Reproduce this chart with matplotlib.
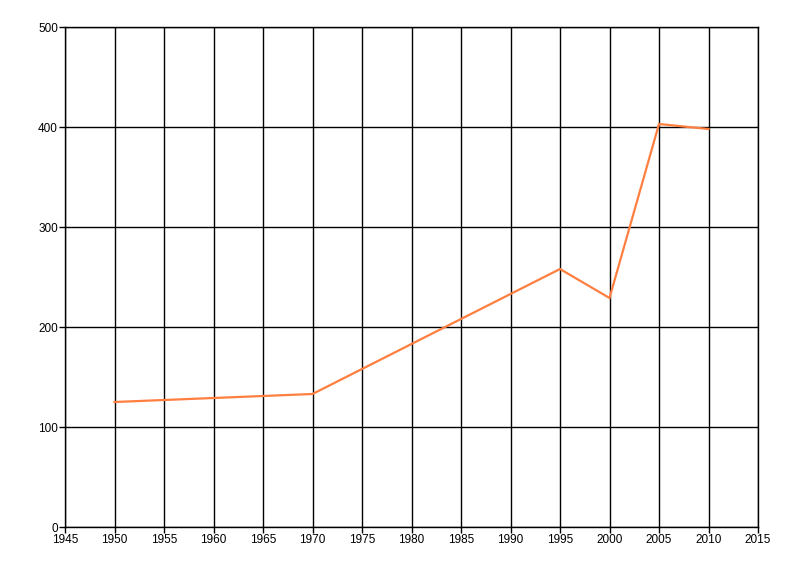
import matplotlib.pyplot as plt

years = [1950, 1970, 1990, 1995, 2000, 2005, 2010]
values = [125, 133, 233, 258, 229, 403, 398]
xticks = list(range(1945, 2016, 5))
yticks = [0, 100, 200, 300, 400, 500]

plt.rcParams['font.family'] = ['Liberation Sans', 'DejaVu Sans']

fig = plt.figure(figsize=(8, 5.76), dpi=100)
ax = fig.add_axes([65/800, 1 - 527/576, (758-65)/800, 500/576])

ax.plot(years, values, color='#FF7F40', linewidth=1.6, solid_joinstyle='miter')

ax.set_xlim(1945, 2015)
ax.set_ylim(0, 500)
ax.set_xticks(xticks)
ax.set_yticks(yticks)
ax.grid(True, color='black', linewidth=1)
ax.set_axisbelow(True)
for s in ['top', 'right']:
    ax.spines[s].set_visible(False)
for s in ['left', 'bottom']:
    ax.spines[s].set_linewidth(1)
# gridlines on the edges get clipped, draw them fully
ax.axvline(2015, color='black', linewidth=1, clip_on=False)
ax.axhline(500, color='black', linewidth=1, clip_on=False)
ax.tick_params(length=4, width=1, labelsize=8.5, pad=1)

fig.savefig('out.png', dpi=100)
